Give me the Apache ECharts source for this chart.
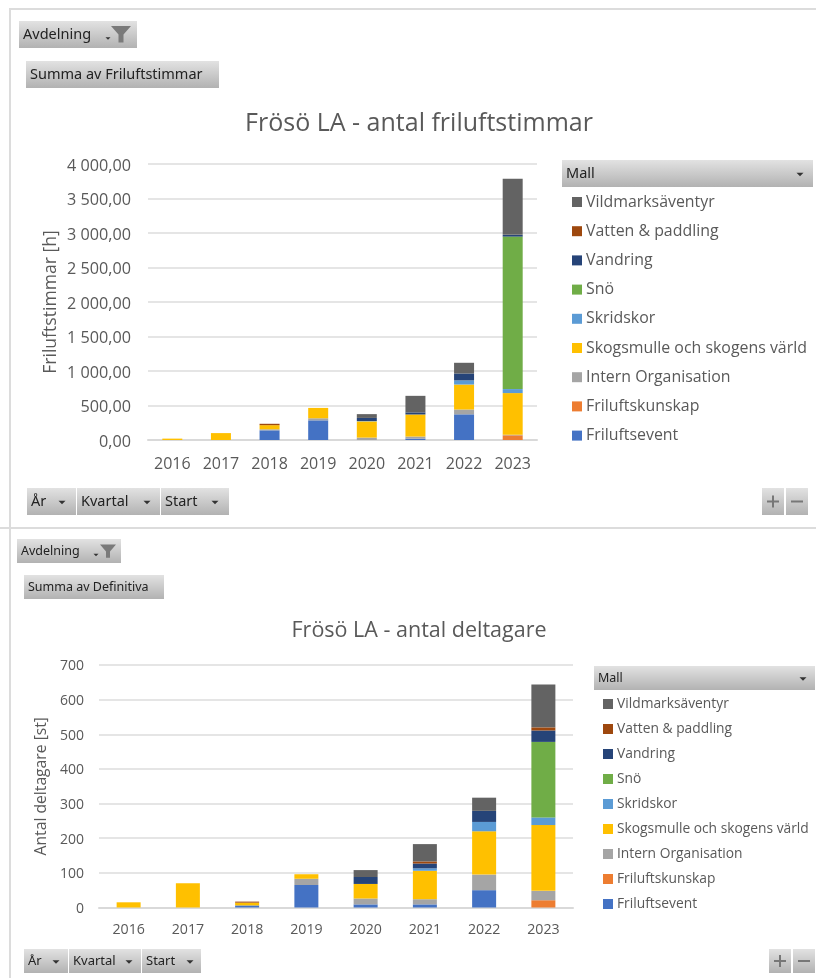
<!DOCTYPE html>
<html><head><meta charset="utf-8">
<style>html,body{margin:0;padding:0;background:#fff}#c{width:816px;height:978px}</style>
<script src="https://cdn.jsdelivr.net/npm/echarts@6/dist/echarts.min.js"></script>
</head><body><div id="c"></div>
<script>
const years = ['2016','2017','2018','2019','2020','2021','2022','2023'];
const names = ['Friluftsevent','Friluftskunskap','Intern Organisation','Skogsmulle och skogens värld','Skridskor','Snö','Vandring','Vatten & paddling','Vildmarksäventyr'];
const colors = ['#4472C4','#ED7D31','#A5A5A5','#FFC000','#5B9BD5','#70AD47','#264478','#9E480E','#636363'];

// Frösö LA - antal friluftstimmar
const h_event    = [0,0,140,285,0,20,372,0];
const h_kunskap  = [0,0,0,0,0,0,0,68];
const h_intern   = [0,0,15,30,35,30,70,8];
const h_skogs    = [20,100,60,150,235,320,362,604];
const h_skridsko = [0,0,0,0,5,0,60,58];
const h_sno      = [0,0,0,0,0,0,0,2210];
const h_vandring = [0,0,0,0,45,30,100,25];
const h_vatten   = [0,0,20,0,0,0,0,0];
const h_vildmark = [0,0,0,0,55,240,155,812];
const hours = [h_event,h_kunskap,h_intern,h_skogs,h_skridsko,h_sno,h_vandring,h_vatten,h_vildmark];

// Frösö LA - antal deltagare
const d_event    = [0,0,6,65,9,9,50,0];
const d_kunskap  = [0,0,0,0,0,0,0,21];
const d_intern   = [0,0,0,18,17,15,45,27];
const d_skogs    = [15,70,8,13,42,82,125,190];
const d_skridsko = [0,0,0,0,0,7,27,22];
const d_sno      = [0,0,0,0,0,0,0,218];
const d_vandring = [0,0,0,0,20,14,32,33];
const d_vatten   = [0,0,3,0,0,6,0,9];
const d_vildmark = [0,0,0,0,20,50,38,124];
const people = [d_event,d_kunskap,d_intern,d_skogs,d_skridsko,d_sno,d_vandring,d_vatten,d_vildmark];

const FONT = '"Open Sans","Noto Sans",sans-serif';
const UI = '"Noto Sans",sans-serif';
const TXT = '#595959';
const num2 = v => { const s = v.toFixed(2).replace('.',','); return '{a|' + s.replace(/\B(?=(\d{3})+(?!\d))/,' ') + '}'; };

const graphic = [];
function line(x1,y1,x2,y2){graphic.push({type:'line',silent:true,shape:{x1,y1,x2,y2},style:{stroke:'#dcdcdc',lineWidth:2}});}
function arrow(cx,cy,s){graphic.push({type:'polygon',silent:true,z:12,shape:{points:[[cx-s,cy-s/2],[cx+s,cy-s/2],[cx,cy+s/2]]},style:{fill:'#333'}});}
function btn(x,y,w,h,text,fs,ax,ay){
  graphic.push({type:'rect',silent:true,z:10,shape:{x,y,width:w,height:h},style:{fill:new echarts.graphic.LinearGradient(0,0,0,1,[{offset:0,color:'#e2e2e2'},{offset:1,color:'#b2b2b2'}])}});
  if(text) graphic.push({type:'text',silent:true,z:12,x:x+4,y:y+h/2,style:{text,fontFamily:UI,fontSize:fs,fill:'#222',verticalAlign:'middle',align:'left'}});
  if(ax) arrow(ax,y+h/2+(ay||1),ay?2.5:3.5);
}
function funnel(cx,cy,s){graphic.push({type:'polygon',silent:true,z:12,shape:{points:[[cx-s,cy-s*.8],[cx+s,cy-s*.8],[cx+s*.25,cy+s*.05],[cx+s*.25,cy+s*.85],[cx-s*.25,cy+s*.85],[cx-s*.25,cy+s*.05]]},style:{fill:'#7a7a7a'}});}
function plusMinus(x1,x2,y,w,h){
  btn(x1,y,w,h); btn(x2,y,w,h);
  const cy=y+h/2, c1=x1+w/2, c2=x2+w/2;
  [[c1-6,cy-1,12,2],[c1-1,cy-6,2,12],[c2-6,cy-1,12,2]].forEach(r=>graphic.push({type:'rect',silent:true,z:12,shape:{x:r[0],y:r[1],width:r[2],height:r[3]},style:{fill:'#777'}}));
}
line(9,9,816,9); line(10,9,10,527); line(0,528,816,528); line(10,528,10,978);

btn(19,21,118,27,'Avdelning',14.5,108,4); funnel(121,34,10);
btn(26,61,193,27,'Summa av Friluftstimmar',14.5);
btn(27,488,49,27,'År',14.5,62); btn(77,488,83,27,'Kvartal',14.5,147); btn(161,488,68,27,'Start',14.5,215);
btn(562,160,251,27,'Mall',14.5,800);
plusMinus(762,786,488,22,27);

btn(17,539,104,24,'Avdelning',12.5,96,4); funnel(108,551,8);
btn(24,575,140,24,'Summa av Definitiva',12.5);
btn(24,949,44,24,'År',13,56); btn(69,949,72,24,'Kvartal',13,129); btn(142,949,59,24,'Start',13,190);
btn(594,666,221,24,'Mall',12.5,803);
plusMinus(769,793,949,22,24);

const series = [];
const mk = (arr,g) => arr.forEach((d,i)=>series.push({
  name:names[i],type:'bar',stack:'s'+g,xAxisIndex:g,yAxisIndex:g,data:d,
  barWidth:g?24:20,itemStyle:{color:colors[i]},emphasis:{disabled:true},animation:false
}));
mk(hours,0); mk(people,1);

const revNames = names.slice().reverse();
const chart = echarts.init(document.getElementById('c'),null,{renderer:'canvas'});
chart.setOption({
  animation:false,
  title:[
    {text:'Frösö LA - antal friluftstimmar',left:414,top:106,textAlign:'center',textStyle:{fontFamily:FONT,fontSize:25,fontWeight:'normal',color:TXT}},
    {text:'Frösö LA - antal deltagare',left:414,top:615,textAlign:'center',textStyle:{fontFamily:FONT,fontSize:21.5,fontWeight:'normal',color:TXT}}
  ],
  grid:[
    {left:148,width:389,top:164,height:276,containLabel:false},
    {left:99,width:474,top:665,height:242.5,containLabel:false}
  ],
  xAxis:[
    {gridIndex:0,type:'category',data:years,axisTick:{show:false},axisLine:{lineStyle:{color:'#d9d9d9',width:2}},axisLabel:{interval:0,fontFamily:FONT,fontSize:16,color:TXT,margin:16}},
    {gridIndex:1,type:'category',data:years,axisTick:{show:false},axisLine:{lineStyle:{color:'#d9d9d9',width:2}},axisLabel:{interval:0,fontFamily:FONT,fontSize:14.2,color:TXT,margin:15}}
  ],
  yAxis:[
    {gridIndex:0,type:'value',min:0,max:4000,interval:500,name:'Friluftstimmar [h]',nameLocation:'middle',nameGap:88,nameTextStyle:{fontFamily:FONT,fontSize:17.6,color:TXT},
     axisLabel:{formatter:num2,margin:17,rich:{a:{fontFamily:FONT,fontSize:16.2,color:TXT,padding:[4,0,0,0]}}},splitLine:{lineStyle:{color:'#dcdcdc',width:1.5}},axisLine:{show:false},axisTick:{show:false}},
    {gridIndex:1,type:'value',min:0,max:700,interval:100,name:'Antal deltagare [st]',nameLocation:'middle',nameGap:42,nameTextStyle:{fontFamily:FONT,fontSize:15.7,color:TXT},
     axisLabel:{formatter:v=>'{a|'+v+'}',margin:15,rich:{a:{fontFamily:FONT,fontSize:14,color:TXT,padding:[3,0,0,0]}}},splitLine:{lineStyle:{color:'#dcdcdc',width:1.5}},axisLine:{show:false},axisTick:{show:false}}
  ],
  legend:[
    {orient:'vertical',left:567,top:187,data:revNames,selectedMode:false,icon:'rect',itemWidth:10,itemHeight:10,itemGap:9.2,
     textStyle:{fontFamily:FONT,fontSize:15.9,color:TXT,lineHeight:20,padding:[0,0,0,-1]}},
    {orient:'vertical',left:598,top:690,data:revNames,selectedMode:false,icon:'rect',itemWidth:10,itemHeight:10,itemGap:7,
     textStyle:{fontFamily:FONT,fontSize:13.8,color:TXT,lineHeight:18,padding:[0,0,0,-1]}}
  ],
  tooltip:{show:false},
  series,
  graphic:{elements:graphic}
});
</script></body></html>
